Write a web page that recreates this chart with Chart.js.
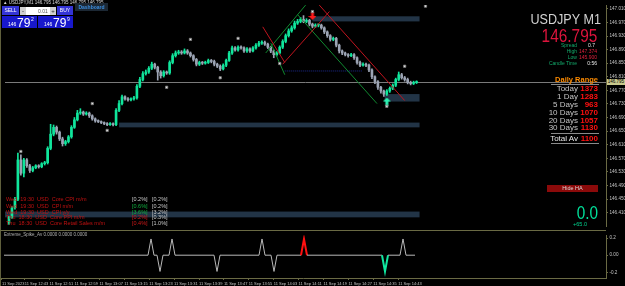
<!DOCTYPE html>
<html>
<head>
<meta charset="utf-8">
<script src="https://cdn.jsdelivr.net/npm/chart.js@4.4.0/dist/chart.umd.min.js"></script>
<style>
  html, body { margin:0; padding:0; background:#000; }
  body { width:625px; height:286px; overflow:hidden; position:relative; font-family:"Liberation Sans", Arial, sans-serif; }
  canvas { position:absolute; left:0; }
  .t { position:absolute; white-space:nowrap; line-height:1; }
  .r { text-align:right; }
  .sm { font-size:5px; }
  .g { color:#13a86a; }
  .red { color:#e0213c; }
  .dr .t { font-size:8px; }
  .lbl { color:#c4c4c4; }
  .val { color:#ff1010; font-weight:bold; }
  .news { font-size:5.5px; }
  .sx { transform-origin:100% 50%; }
</style>
</head>
<body>
<canvas id="main" width="625" height="231" style="top:0"></canvas>
<canvas id="sub" width="625" height="55" style="top:231px"></canvas>

<!-- frame lines -->
<div class="t" style="left:0;top:0;width:1px;height:286px;background:#5f5f3c"></div>
<div class="t" style="left:0;top:230px;width:606px;height:1px;background:#6a6a44"></div>

<!-- header -->
<div class="t" style="left:3px;top:1px;font-size:4.5px;color:#d8d8d8">▲ USDJPY,M1 146.795 146.795 146.795 146.795</div>

<!-- one-click trading panel -->
<div class="t" style="left:2px;top:6px;width:17px;height:9px;background:#3434d6;color:#fff;font-size:5px;line-height:9px;text-align:center">SELL</div>
<div class="t" style="left:20px;top:7px;width:36px;height:8px;background:#fff"></div>
<div class="t" style="left:20px;top:7px;width:6px;height:8px;background:#cfcfcf;color:#333;font-size:6px;line-height:8px;text-align:center">-</div>
<div class="t" style="left:50px;top:7px;width:6px;height:8px;background:#cfcfcf;color:#333;font-size:6px;line-height:8px;text-align:center">+</div>
<div class="t" style="left:38px;top:7px;font-size:5px;line-height:8px;color:#555">0.01</div>
<div class="t" style="left:57px;top:6px;width:16px;height:9px;background:#3434d6;color:#fff;font-size:5px;line-height:9px;text-align:center">BUY</div>
<div class="t" style="left:2px;top:16px;width:35px;height:12px;background:#1818cc;color:#fff">
  <span class="t" style="font-size:5px;left:6px;top:6px">146</span>
  <span class="t" style="font-size:12px;left:15px;top:0.5px">79</span>
  <span class="t" style="font-size:5px;left:29px;top:1px">2</span>
</div>
<div class="t" style="left:38px;top:16px;width:35px;height:12px;background:#1818cc;color:#fff">
  <span class="t" style="font-size:5px;left:6px;top:6px">146</span>
  <span class="t" style="font-size:12px;left:15px;top:0.5px">79</span>
  <span class="t" style="font-size:5px;left:29px;top:1px">9</span>
</div>
<div class="t" style="left:75px;top:3px;width:33px;height:8px;background:#1c2834;color:#3d8fe0;font-size:5px;line-height:8px;text-align:center;font-weight:bold">Dashboard</div>

<!-- symbol info -->
<div class="t r sx" style="right:24px;top:11px;font-size:15px;color:#d2d2d2;transform:scaleX(0.84)">USDJPY M1</div>
<div class="t r sx" style="right:28px;top:28px;font-size:17.5px;color:#dc143c;transform:scaleX(0.88)">146.795</div>
<div class="t r sm g" style="right:48px;top:43px">Spread</div>
<div class="t r sm" style="right:30px;top:43px;color:#e8e8e8">0.7</div>
<div class="t r sm g" style="right:48px;top:49px">High</div>
<div class="t r sm red" style="right:28px;top:49px">147.374</div>
<div class="t r sm g" style="right:48px;top:55px">Low</div>
<div class="t r sm red" style="right:28px;top:55px">145.900</div>
<div class="t r sm g" style="right:48px;top:61px">Candle Time</div>
<div class="t r sm" style="right:28px;top:61px;color:#e8e8e8">0:56</div>

<!-- daily range -->
<div class="dr">
  <div class="t r" style="right:27px;top:76px;font-size:7.5px;font-weight:bold;color:#ff8c00">Daily Range</div>
  <div class="t" style="left:551px;top:84px;width:48px;height:1px;background:#8a8a8a"></div>
  <div class="t r lbl" style="right:47px;top:85px">Today</div><div class="t r val" style="right:27px;top:85px">1373</div>
  <div class="t r lbl" style="right:47px;top:93px">1 Day</div><div class="t r val" style="right:27px;top:93px">1283</div>
  <div class="t r lbl" style="right:47px;top:101px">5 Days</div><div class="t r val" style="right:27px;top:101px">963</div>
  <div class="t r lbl" style="right:47px;top:109px">10 Days</div><div class="t r val" style="right:27px;top:109px">1070</div>
  <div class="t r lbl" style="right:47px;top:116.5px">20 Days</div><div class="t r val" style="right:27px;top:116.5px">1057</div>
  <div class="t r lbl" style="right:47px;top:124px">30 Days</div><div class="t r val" style="right:27px;top:124px">1130</div>
  <div class="t" style="left:551px;top:133px;width:48px;height:1px;background:#8a8a8a"></div>
  <div class="t r lbl" style="right:47px;top:135px;color:#e6e6e6">Total Av</div><div class="t r val" style="right:27px;top:135px">1100</div>
  <div class="t" style="left:551px;top:143px;width:48px;height:1px;background:#8a8a8a"></div>
</div>

<div class="t" style="left:547px;top:185px;width:51px;height:7px;background:#8b0a0a;color:#dcdcdc;font-size:5.5px;line-height:7px;text-align:center">Hide HA</div>
<div class="t r sx" style="right:27px;top:204px;font-size:18px;color:#00e09a;transform:scaleX(0.85)">0.0</div>
<div class="t r" style="right:38px;top:222px;font-size:5.5px;color:#00d08c">+65.0</div>

<!-- news -->
<div class="news">
  <div class="t" style="left:6px;top:197px;color:#c01010">Wed&nbsp;&nbsp;19:30&nbsp;&nbsp;USD&nbsp;&nbsp;Core CPI m/m</div>
  <div class="t" style="left:132px;top:197px;color:#c8c8c8">[0.2%]</div><div class="t" style="left:152px;top:197px;color:#c8c8c8">[0.2%]</div>
  <div class="t" style="left:6px;top:203.5px;color:#c01010">Wed&nbsp;&nbsp;19:30&nbsp;&nbsp;USD&nbsp;&nbsp;CPI m/m</div>
  <div class="t" style="left:132px;top:203.5px;color:#10b040">[0.6%]</div><div class="t" style="left:152px;top:203.5px;color:#c8c8c8">[0.2%]</div>
  <div class="t" style="left:6px;top:209.5px;color:#c01010">Wed&nbsp;&nbsp;19:30&nbsp;&nbsp;USD&nbsp;&nbsp;CPI y/y</div>
  <div class="t" style="left:132px;top:209.5px;color:#10b040">[3.6%]</div><div class="t" style="left:152px;top:209.5px;color:#c8c8c8">[3.2%]</div>
  <div class="t" style="left:6px;top:215px;color:#c01010">Thu&nbsp;&nbsp;18:30&nbsp;&nbsp;USD&nbsp;&nbsp;Core PPI m/m</div>
  <div class="t" style="left:132px;top:215px;color:#d01818">[0.2%]</div><div class="t" style="left:152px;top:215px;color:#c8c8c8">[0.3%]</div>
  <div class="t" style="left:6px;top:220.5px;color:#c01010">Thu&nbsp;&nbsp;18:30&nbsp;&nbsp;USD&nbsp;&nbsp;Core Retail Sales m/m</div>
  <div class="t" style="left:132px;top:220.5px;color:#d01818">[0.4%]</div><div class="t" style="left:152px;top:220.5px;color:#c8c8c8">[1.0%]</div>
</div>

<div class="t" style="left:4px;top:233px;font-size:4.5px;color:#b0b0b0">Extreme_Spike_Av 0.0000 0.0000 0.0000</div>
<div class="t" id="bidbox" style="left:607px;width:18px;height:6px;background:#c9c98e;color:#000;font-size:4.5px;line-height:6px;text-align:center">146.795</div>

<script>
// ---- M1 candles (USDJPY, 11 Sep 2023) ----
const opens = [
146.379,146.396,146.424,146.449,146.565,146.526,146.565,146.548,146.534,146.542,
146.548,146.545,146.554,146.557,146.599,146.641,146.661,146.647,146.627,146.613,
146.619,146.633,146.661,146.683,146.703,146.706,146.700,146.703,146.695,146.686,
146.680,146.678,146.675,146.672,146.669,146.672,146.669,146.711,146.731,146.751,
146.745,146.742,146.745,146.748,146.782,146.802,146.819,146.824,146.835,146.847,
146.838,146.824,146.813,146.824,146.821,146.852,146.872,146.880,146.883,146.880,
146.886,146.880,146.872,146.861,146.847,146.852,146.850,146.852,146.858,146.855,
146.847,146.841,146.833,146.844,146.858,146.880,146.895,146.889,146.897,146.895,
146.886,146.892,146.886,146.895,146.903,146.909,146.911,146.906,146.897,146.886,
146.875,146.880,146.897,146.914,146.931,146.945,146.954,146.968,146.973,146.979,
146.973,146.976,146.965,146.959,146.962,146.962,146.954,146.942,146.931,146.920,
146.923,146.903,146.886,146.880,146.875,146.872,146.875,146.866,146.852,146.844,
146.847,146.844,146.830,146.810,146.796,146.779,146.768,146.759,146.768,146.776,
146.785,146.802,146.816,146.807,146.802,146.793,146.790,146.793];
const highs = [
146.399,146.428,146.455,146.585,146.580,146.570,146.569,146.552,146.546,146.551,
146.551,146.557,146.561,146.604,146.670,146.668,146.665,146.650,146.632,146.623,
146.637,146.666,146.690,146.711,146.716,146.709,146.707,146.706,146.698,146.689,
146.683,146.680,146.677,146.675,146.675,146.674,146.716,146.740,146.756,146.754,
146.749,146.748,146.752,146.787,146.808,146.825,146.830,146.840,146.853,146.850,
146.841,146.828,146.828,146.827,146.857,146.878,146.886,146.888,146.887,146.892,
146.890,146.883,146.875,146.864,146.856,146.855,146.856,146.862,146.861,146.859,
146.850,146.845,146.848,146.862,146.885,146.900,146.899,146.901,146.901,146.898,
146.896,146.895,146.899,146.908,146.914,146.916,146.915,146.909,146.900,146.889,
146.884,146.901,146.919,146.936,146.951,146.960,146.974,146.979,146.985,146.990,
146.981,146.979,146.968,146.966,146.966,146.965,146.957,146.945,146.934,146.927,
146.926,146.906,146.889,146.883,146.878,146.879,146.878,146.869,146.856,146.851,
146.850,146.847,146.833,146.813,146.799,146.782,146.771,146.772,146.780,146.789,
146.806,146.824,146.820,146.811,146.806,146.797,146.797,146.798];
const lows = [
146.375,146.393,146.420,146.445,146.520,146.515,146.543,146.528,146.530,146.539,
146.541,146.542,146.550,146.553,146.595,146.636,146.641,146.622,146.606,146.608,
146.615,146.629,146.658,146.680,146.699,146.696,146.697,146.690,146.682,146.676,
146.675,146.672,146.669,146.666,146.667,146.665,146.666,146.707,146.727,146.741,
146.738,146.739,146.741,146.744,146.778,146.798,146.815,146.820,146.831,146.833,
146.800,146.806,146.809,146.817,146.817,146.848,146.868,146.876,146.876,146.877,
146.876,146.868,146.856,146.842,146.843,146.846,146.847,146.849,146.851,146.842,
146.837,146.828,146.830,146.840,146.855,146.876,146.885,146.885,146.891,146.882,
146.882,146.882,146.883,146.891,146.899,146.905,146.902,146.893,146.881,146.866,
146.871,146.877,146.893,146.910,146.927,146.941,146.950,146.964,146.969,146.969,
146.969,146.960,146.954,146.955,146.957,146.950,146.937,146.926,146.915,146.916,
146.898,146.880,146.875,146.871,146.868,146.869,146.861,146.847,146.840,146.841,
146.840,146.825,146.804,146.790,146.773,146.762,146.752,146.755,146.764,146.772,
146.781,146.798,146.803,146.797,146.789,146.786,146.787,146.790];
const closes = [
146.396,146.424,146.449,146.565,146.526,146.565,146.548,146.534,146.542,146.548,
146.545,146.554,146.557,146.599,146.641,146.661,146.647,146.627,146.613,146.619,
146.633,146.661,146.683,146.703,146.706,146.700,146.703,146.695,146.686,146.680,
146.678,146.675,146.672,146.669,146.672,146.669,146.711,146.731,146.751,146.745,
146.742,146.745,146.748,146.782,146.802,146.819,146.824,146.835,146.847,146.838,
146.824,146.813,146.824,146.821,146.852,146.872,146.880,146.883,146.880,146.886,
146.880,146.872,146.861,146.847,146.852,146.850,146.852,146.858,146.855,146.847,
146.841,146.833,146.844,146.858,146.880,146.895,146.889,146.897,146.895,146.886,
146.892,146.886,146.895,146.903,146.909,146.911,146.906,146.897,146.886,146.875,
146.880,146.897,146.914,146.931,146.945,146.954,146.968,146.973,146.979,146.973,
146.976,146.965,146.959,146.962,146.962,146.954,146.942,146.931,146.920,146.923,
146.903,146.886,146.880,146.875,146.872,146.875,146.866,146.852,146.844,146.847,
146.844,146.830,146.810,146.796,146.779,146.768,146.759,146.768,146.776,146.785,
146.802,146.816,146.807,146.802,146.793,146.790,146.793,146.795];

const priceTicks = [147.010,146.970,146.930,146.890,146.850,146.810,146.770,146.730,
  146.690,146.650,146.610,146.570,146.530,146.490,146.450,146.410];

// fractal dots, arrows, zones and channel lines (bar index / price)
const fractalIdx   = [4, 28, 33, 53, 61, 71, 77, 91, 102, 127, 133, 140];
const fractalPrice = [146.590,146.731,146.652,146.779,146.920,146.807,146.923,146.849,147.002,146.723,146.841,147.018];
const sellArrowIdx = [102], sellArrowPrice = [146.989];
const buyArrowIdx  = [127], buyArrowPrice  = [146.737];

const zoneFrom = [102, 126.3, 37, -1.33];
const zoneTo   = [138, 138, 138, 138];
const zoneHigh = [146.988, 146.759, 146.675, 146.413];
const zoneLow  = [146.973, 146.737, 146.661, 146.396];

const chanX0 = [85.3, 86.3, 88.0, 92.0, 104.3, 97.0, 92.7];
const chanP0 = [146.957, 146.880, 146.909, 146.847, 147.021, 146.993, 146.827];
const chanX1 = [92.7, 99.7, 92.7, 107.7, 133.0, 123.7, 118.7];
const chanP1 = [146.852, 147.021, 146.816, 147.002, 146.740, 146.731, 146.827];
const chanColor = ['#c0141e','#108a30','#108a30','#c0141e','#c0141e','#108a30','#1c2a90'];
const chanDash  = [[], [], [], [], [], [], [1,1]];

// Extreme_Spike_Av sub window
const spikeAv = [
0,0,0,0,0,0,0,0,0,0,
0,0,0,0,0,0,0,0,0,0,
0,0,0,0,0,0,0,0,0,0,
0,0,0,0,0,0,0,0,0,0,
0,0,0,0,0,0,0,0,0,0.19,
0,0,-0.19,0,0,0,0.19,0,0,0,
0,0,0,0,0,0,0,0,0,0,
0,-0.19,0,0,0,0,0,0,0,0,
0,0,0,0,0,0,0.19,0,0,0,
-0.19,0,0,0,0,0,0,0,0,0,
0.19,0,0,0,0,0,0,0,0,0,
0,0,0,0,0,0,0,0,0,0,
0,0,0,0,0,0,0,-0.19,0,0,
0,0,0,0.19,0,0,0,0];
const spikeSell = [100], spikeBuy = [127];
const oscTicks = [0.2, 0, -0.2];
const oscTickLabels = ['0.2', '0.00', '-0.2'];

const timeLabels = ['11 Sep 2023','11 Sep 12:43','11 Sep 12:51','11 Sep 12:59','11 Sep 13:07',
  '11 Sep 13:15','11 Sep 13:23','11 Sep 13:31','11 Sep 13:39','11 Sep 13:47','11 Sep 13:55',
  '11 Sep 14:03','11 Sep 14:11','11 Sep 14:19','11 Sep 14:27','11 Sep 14:35','11 Sep 14:43'];
const timePos = [-0.67, 6.9, 15.2, 23.5, 31.8, 40.1, 48.4, 56.7, 65.0, 73.3,
  81.6, 89.9, 98.2, 106.5, 114.8, 123.1, 131.4];

const xMin = -4 / 3, xMax = xMin + 202;     // 3 px per bar over 606 px
const yMin = 146.3705, yMax = 147.0213;
const axisCol = '#6a6a44';
const bull = '#10e69c', bear = '#9ca4b4';
const candleCol = closes.map((c, i) => c >= opens[i] ? bull : bear);

function arrowImg(color, up) {
  const c = document.createElement('canvas');
  c.width = 8; c.height = 8;
  const g = c.getContext('2d');
  g.fillStyle = color;
  const pts = up
    ? [[4,0],[8,4],[5.5,4],[5.5,8],[2.5,8],[2.5,4],[0,4]]
    : [[4,8],[8,4],[5.5,4],[5.5,0],[2.5,0],[2.5,4],[0,4]];
  g.beginPath();
  pts.forEach(([px, py], k) => k ? g.lineTo(px, py) : g.moveTo(px, py));
  g.closePath();
  g.fill();
  return c;
}

const zonesPlugin = {
  id: 'zones',
  beforeDatasetsDraw(chart) {
    const {ctx, chartArea: a} = chart;
    const x = chart.scales.x, y = chart.scales.y;
    ctx.save();
    ctx.fillStyle = '#223446';
    zoneFrom.forEach((f, k) => {
      const x0 = x.getPixelForValue(f), x1 = x.getPixelForValue(zoneTo[k]);
      const y0 = y.getPixelForValue(zoneHigh[k]), y1 = y.getPixelForValue(zoneLow[k]);
      ctx.fillRect(x0, y0, x1 - x0, y1 - y0);
    });
    // bid line
    const yb = Math.round(y.getPixelForValue(closes[closes.length - 1])) + 0.5;
    ctx.strokeStyle = '#7a7a7a';
    ctx.lineWidth = 1;
    ctx.beginPath();
    ctx.moveTo(a.left, yb);
    ctx.lineTo(a.right, yb);
    ctx.stroke();
    ctx.restore();
  }
};

const tickFont = {size: 4.6, family: '"Liberation Sans", Arial'};

const mainChart = new Chart(document.getElementById('main'), {
  type: 'bar',
  data: {
    datasets: [
      {
        data: closes.map((c, i) => ({x: i, y: [lows[i], highs[i]]})),
        backgroundColor: candleCol, barThickness: 1, grouped: false, order: 3
      },
      {
        data: closes.map((c, i) => ({x: i, y: [opens[i], c]})),
        backgroundColor: candleCol, barThickness: 2, minBarLength: 1, grouped: false, order: 2
      },
      ...chanX0.map((x0, k) => ({
        type: 'line',
        data: [{x: x0, y: chanP0[k]}, {x: chanX1[k], y: chanP1[k]}],
        borderColor: chanColor[k], borderWidth: 1, borderDash: chanDash[k],
        pointRadius: 0, order: 1
      })),
      {
        type: 'line',
        data: fractalIdx.map((x, k) => ({x: x, y: fractalPrice[k]})),
        showLine: false, pointStyle: 'rect', pointRadius: 1.6,
        backgroundColor: '#e8e8e8', borderColor: '#7c7c7c', borderWidth: 0.8, order: 0
      },
      {
        type: 'line',
        data: sellArrowIdx.map((x, k) => ({x: x, y: sellArrowPrice[k]})),
        showLine: false, pointStyle: arrowImg('#ff1a1a', false), order: 0
      },
      {
        type: 'line',
        data: buyArrowIdx.map((x, k) => ({x: x, y: buyArrowPrice[k]})),
        showLine: false, pointStyle: arrowImg('#2af0b0', true), order: 0
      }
    ]
  },
  options: {
    responsive: false,
    animation: false,
    events: [],
    layout: {padding: 0},
    plugins: {legend: {display: false}, tooltip: {enabled: false}},
    scales: {
      x: {type: 'linear', min: xMin, max: xMax, offset: false, display: false},
      y: {
        position: 'right', min: yMin, max: yMax, beginAtZero: false,
        afterFit(s) { s.width = 19; },
        afterBuildTicks(s) { s.ticks = priceTicks.map(v => ({value: v})); },
        ticks: {
          color: '#c4c4c4', font: tickFont, padding: 1.5, autoSkip: false,
          callback: v => v.toFixed(3)
        },
        grid: {drawOnChartArea: false, tickLength: 2, color: axisCol},
        border: {color: axisCol}
      }
    }
  },
  plugins: [zonesPlugin]
});

const subChart = new Chart(document.getElementById('sub'), {
  type: 'line',
  data: {
    datasets: [{
      data: spikeAv.map((v, i) => ({x: i, y: v})),
      borderColor: '#b8b8b8', borderWidth: 1, pointRadius: 0,
      segment: {
        borderColor: c => spikeSell.some(k => k === c.p0DataIndex || k === c.p1DataIndex) ? '#ff1010'
          : spikeBuy.some(k => k === c.p0DataIndex || k === c.p1DataIndex) ? '#10e8a0' : undefined,
        borderWidth: c => [...spikeSell, ...spikeBuy].some(k => k === c.p0DataIndex || k === c.p1DataIndex) ? 2 : undefined
      }
    }]
  },
  options: {
    responsive: false,
    animation: false,
    events: [],
    layout: {padding: {top: 2}},
    plugins: {legend: {display: false}, tooltip: {enabled: false}},
    scales: {
      x: {
        type: 'linear', min: xMin, max: xMax, offset: false,
        afterFit(s) { s.height = 8; },
        afterBuildTicks(s) { s.ticks = timePos.map(v => ({value: v})); },
        ticks: {
          color: '#c4c4c4', font: {size: 4, family: '"Liberation Sans", Arial'}, padding: 1,
          autoSkip: false, maxRotation: 0, align: 'start', callback: (v, i) => timeLabels[i]
        },
        grid: {drawOnChartArea: false, tickLength: 2, color: axisCol},
        border: {color: axisCol}
      },
      y: {
        position: 'right', min: -0.2667, max: 0.2333,
        afterFit(s) { s.width = 19; },
        afterBuildTicks(s) { s.ticks = oscTicks.map(v => ({value: v})); },
        ticks: {
          color: '#c4c4c4', font: tickFont, padding: 1.5, autoSkip: false,
          callback: (v, i) => oscTickLabels[i]
        },
        grid: {drawOnChartArea: false, tickLength: 2, color: axisCol},
        border: {color: axisCol}
      }
    }
  }
});

// bid price label on the price axis
const bidY = mainChart.scales.y.getPixelForValue(closes[closes.length - 1]);
document.getElementById('bidbox').style.top = (bidY - 3) + 'px';
</script>
</body>
</html>
